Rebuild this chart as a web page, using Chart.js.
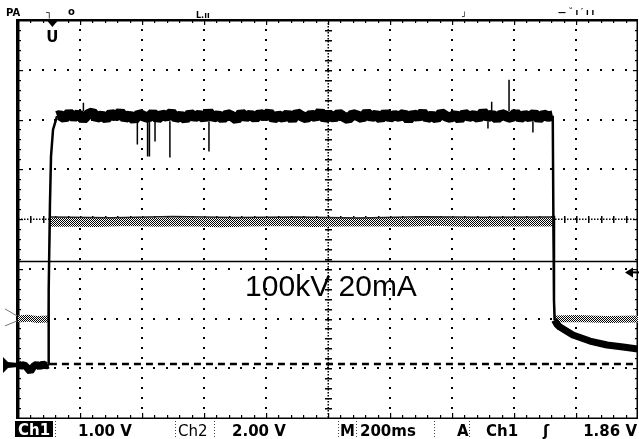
<!DOCTYPE html>
<html><head><meta charset="utf-8">
<script src="https://cdn.jsdelivr.net/npm/chart.js@4/dist/chart.umd.min.js"></script>
<style>html,body{margin:0;padding:0;background:#fff;}#wrap{width:639px;height:439px;}</style>
</head><body><div id="wrap"><canvas id="c" width="639" height="439"></canvas></div>
<script>
// Time base: 200 ms/div, 10 div. Ch1 1.00 V/div, Ch2 2.00 V/div.
const ch1LowT = [0,10,20,30,40,50,60,70,80,90,97];
const ch1LowV = [0.02,-0.02,0.0,-0.06,-0.13,-0.03,0.01,-0.04,0.02,-0.02,0.0];
const ch1RiseT = [97,99,103,106.5,113,126];
const ch1RiseV = [0.0,1.5,3.2,4.19,4.73,5.0];
const ch1FlatStartMs = 135, ch1FlatStepMs = 15;
const ch1FlatV = [
5.02,4.96,5.06,4.98,5.04,4.94,5.03,5.07,4.97,5.01,
4.95,5.05,4.99,5.08,4.96,5.02,4.93,5.04,5.00,4.97,
5.06,4.95,5.03,4.99,5.07,4.96,5.01,4.94,5.05,4.98,
5.03,4.96,5.08,4.97,5.02,4.95,5.04,5.00,4.93,5.06,
4.98,5.03,4.96,5.05,4.99,5.07,4.95,5.01,4.97,5.04,
4.94,5.06,5.00,4.96,5.03,4.98,5.08,4.95,5.02,4.97,
5.05,4.99,4.94,5.04,5.01,4.96,5.07,4.98,5.03,4.95,
5.06,4.97,5.02,4.99,5.05,4.93,5.04,4.98,5.07,4.96,
5.01,4.95,5.06,5.00,4.97,5.03,4.94,5.05,4.99,5.02,
4.96,5.08,4.98,5.03,4.95,5.04,5.00,4.97,5.06,4.96,
5.02,4.98,5.05,4.95,5.03,4.99,5.01];
const ch1FallT = [1725,1727,1729,1731];
const ch1FallV = [5.01,3.0,1.3,0.9];
const ch1TailT = [1731,1738,1748,1790,1845,1900,1952,2000];
const ch1TailV = [0.9,0.82,0.76,0.60,0.48,0.40,0.36,0.32];
const spikeT = [211,211,null,385,385,null,418,418,null,424,424,null,442,442,null,490,490,null,616,616,null,1516,1516,null,1528,1528,null,1584,1584,null,1661,1661];
const spikeV = [5.1,5.27,null,4.9,4.43,null,4.9,4.19,null,4.9,4.19,null,4.9,4.49,null,4.9,4.17,null,4.9,4.29,null,4.9,4.75,null,5.1,5.29,null,5.1,5.73,null,4.9,4.67];
const ch2LowT = [0,30,60,97];
const ch2LowV = [0,0.03,-0.02,0];
const ch2RiseT = [97,100,104];
const ch2RiseV = [0,2.0,3.89];
const ch2HighT = [104,150,250,350,450,550,650,750,850,950,1050,1150,1250,1350,1450,1550,1650,1726];
const ch2HighV = [3.89,3.9,3.88,3.92,3.89,3.91,3.87,3.9,3.92,3.88,3.9,3.91,3.89,3.93,3.88,3.9,3.91,3.9];
const ch2FallT = [1726,1729,1732];
const ch2FallV = [3.9,1.5,0];
const ch2EndT = [1732,1800,1900,2000];
const ch2EndV = [0,0.02,-0.02,0];
const ch2EdgeT = [106,300,500,700,900,1100,1300,1500,1725];
const ch2EdgeV = [4.1,4.07,4.12,4.08,4.1,4.06,4.11,4.09,4.1];
const cursorV = 2.08;      // ch1 volts, solid horizontal cursor
const refLevelV = 0.02;    // ch1 volts, dashed reference
const refStartMs = 103;
const trigLevelV = 1.86;   // ch1 volts
const trigPosMs = 111;
const ch1Range = [-1.067, 6.933];
const ch2Range = [-3.984, 12.016];
const timeRange = [0, 2000];
const divRange = [0, 8];

function pts(t, v){ return t.map((x,i)=> x===null ? {x: t[i-1], y: null} : {x: x, y: v[i]}); }
const ch1Flat = [{x: ch1RiseT[ch1RiseT.length-1], y: ch1RiseV[ch1RiseV.length-1]}]
  .concat(ch1FlatV.map((v,i)=>({x: ch1FlatStartMs + i*ch1FlatStepMs, y: v})));

function dither(){
  const c=document.createElement('canvas'); c.width=2; c.height=2;
  const g=c.getContext('2d'); g.fillStyle='#fff'; g.fillRect(0,0,2,2);
  g.fillStyle='#000'; g.fillRect(0,0,1,1); g.fillRect(1,1,1,1);
  return g.createPattern(c,'repeat');
}
const pat = dither();

const base = {showLine:true, pointRadius:0, tension:0, fill:false, spanGaps:false, borderJoinStyle:'bevel'};
function line(label, data, color, width, axis, extra){ return Object.assign({}, base, {label, data, borderColor:color, borderWidth:width, yAxisID:axis}, extra||{}); }
const ds = [
  line('ch1low', pts(ch1LowT,ch1LowV), '#000', 7.5, 'y1'),
  line('ch1rise', pts(ch1RiseT,ch1RiseV), '#000', 2.5, 'y1'),
  line('ch1flat', ch1Flat, '#000', 10.5, 'y1'),
  line('ch1fall', pts(ch1FallT,ch1FallV), '#000', 2.5, 'y1'),
  line('ch1tail', pts(ch1TailT,ch1TailV), '#000', 7, 'y1', {borderJoinStyle:'round'}),
  line('spikes', pts(spikeT,spikeV), '#000', 1.5, 'y1'),
  line('ch2edge', pts(ch2EdgeT,ch2EdgeV), '#222', 1.5, 'y2'),
  line('ch2low', pts(ch2LowT,ch2LowV), pat, 7, 'y2'),
  line('ch2rise', pts(ch2RiseT,ch2RiseV), '#555', 1, 'y2'),
  line('ch2high', pts(ch2HighT,ch2HighV), pat, 9, 'y2'),
  line('ch2fall', pts(ch2FallT,ch2FallV), '#555', 1, 'y2'),
  line('ch2end', pts(ch2EndT,ch2EndV), pat, 7, 'y2'),
  line('cursor', pts([0,2000],[cursorV,cursorV]), '#000', 1.5, 'y1'),
  line('ref', pts([refStartMs,2000],[refLevelV,refLevelV]), '#000', 2.5, 'y1', {borderDash:[7,5]})
];

const gridPlugin = {
  id:'scopeGrid',
  beforeDatasetsDraw(chart){
    const g = chart.ctx, xs = chart.scales.x, gs = chart.scales.g;
    const a = chart.chartArea;
    g.save(); g.fillStyle='#000';
    for(let i=1;i<10;i++){
      const x = Math.round(xs.getPixelForValue(i*200));
      for(let k=1;k<40;k++){
        const y = Math.round(gs.getPixelForValue(k*0.2));
        if(i===5){ g.fillRect(x-3,y,7,1.5); } else { g.fillRect(x-1,y-1,2,2); }
      }
      if(i===5){ for(let y=a.top; y<a.bottom; y+=3) g.fillRect(x-0.5,y,1.5,1.5); }
    }
    for(let j=1;j<8;j++){
      const y = Math.round(gs.getPixelForValue(j));
      for(let k=1;k<50;k++){
        const x = Math.round(xs.getPixelForValue(k*40));
        if(j===4){ g.fillRect(x,y-3,1.5,7); } else { g.fillRect(x-1,y-1,2,2); }
      }
      if(j===4){ for(let x=a.left; x<a.right; x+=3) g.fillRect(x,y-0.5,1.5,1.5); }
    }
    // borders
    g.fillRect(a.left-2, a.top, 3.5, a.bottom-a.top+1);
    g.fillRect(a.left-2, a.top-1, a.right-a.left+2, 2.5);
    g.fillRect(a.right-1.5, a.top, 1.5, a.bottom-a.top);
    g.fillRect(a.left-2, a.bottom-0.5, a.right-a.left+2, 1.5);
    for(let k=1;k<50;k++){
      const x = Math.round(xs.getPixelForValue(k*40));
      const L = (k%5===0)?5:3;
      g.fillRect(x, a.top, 1.2, L); g.fillRect(x, a.bottom-L, 1.2, L);
    }
    for(let k=1;k<40;k++){
      const y = Math.round(gs.getPixelForValue(k*0.2));
      const L = (k%5===0)?5:3;
      g.fillRect(a.left, y, L, 1.2); g.fillRect(a.right-L, y, L, 1.2);
    }
    g.restore();
  },
  afterDraw(chart){
    const g = chart.ctx, xs = chart.scales.x, y1 = chart.scales.y1, y2 = chart.scales.y2, gs = chart.scales.g;
    const a = chart.chartArea;
    g.save();
    g.fillStyle='#000';
    // ch1 ground marker
    const gy = y1.getPixelForValue(0);
    g.beginPath(); g.moveTo(3,gy-8); g.lineTo(8,gy-3); g.lineTo(a.left,gy-2); g.lineTo(a.left,gy+2); g.lineTo(8,gy+3); g.lineTo(3,gy+8); g.closePath(); g.fill();
    // ch2 ground marker (faint)
    const g2 = y2.getPixelForValue(0);
    g.strokeStyle='#777'; g.lineWidth=1;
    g.beginPath(); g.moveTo(5,g2-10); g.lineTo(a.left-1,g2-3); g.moveTo(5,g2+7); g.lineTo(a.left-1,g2+2); g.stroke();
    // trigger level marker (right)
    const ty = y1.getPixelForValue(trigLevelV);
    g.beginPath(); g.moveTo(a.right-13,ty); g.lineTo(a.right-5,ty-5); g.lineTo(a.right-5,ty+5); g.closePath(); g.fill();
    g.fillRect(a.right-6, ty-1, 8, 2);
    // trigger position marker (top)
    const tx = xs.getPixelForValue(trigPosMs);
    g.beginPath(); g.moveTo(tx-5,a.top+1); g.lineTo(tx+5,a.top+1); g.lineTo(tx,a.top+7); g.closePath(); g.fill();
    g.font='bold 15px "DejaVu Sans"'; g.textAlign='center'; g.textBaseline='alphabetic';
    g.fillText('U', tx, a.top+22);
    // annotation
    g.font='30px "Liberation Sans"'; g.textAlign='center';
    g.fillText('100kV 20mA', xs.getPixelForValue(1000)+3, gs.getPixelForValue(2.45));
    // top scribbles
    g.font='bold 10px "DejaVu Sans"'; g.textAlign='left';
    g.fillText('PA', 6, 16); g.fillText('\u2510', 46, 16); g.fillText('o', 68, 15);
    g.font='bold 8px "DejaVu Sans"';
    g.fillText('L.ıı', 196, 18); g.fillText('\u2518', 462, 19);
    g.fillText('\u2014 \u02D8 ı \u2032 ı ı', 558, 15);
    // status bar
    const sy = 436;
    g.fillRect(15, 421, 38, 16);
    g.font='bold 15px "DejaVu Sans"'; g.textAlign='left';
    g.fillStyle='#fff'; g.fillText('Ch1', 18, sy-1);
    g.fillStyle='#000';
    g.fillText('1.00 V', 78, sy);
    g.font='15px "DejaVu Sans"';
    g.fillText('Ch2', 178, sy);
    g.font='bold 15px "DejaVu Sans"';
    g.fillText('2.00 V', 232, sy);
    g.fillText('M', 340, sy);
    g.fillText('200ms', 360, sy);
    g.fillText('A', 457, sy);
    g.fillText('Ch1', 486, sy);
    g.fillText('\u0283', 543, sy);
    g.textAlign='right';
    g.fillText('1.86 V', 637, sy);
    g.strokeStyle='#444'; g.lineWidth=1; g.setLineDash([1,2]);
    [55,175,214,338,356,434,469].forEach(x=>{ g.beginPath(); g.moveTo(x+0.5,421); g.lineTo(x+0.5,438); g.stroke(); });
    g.restore();
  }
};

new Chart(document.getElementById('c'), {
  type:'scatter',
  data:{datasets: ds},
  options:{
    responsive:false, animation:false, devicePixelRatio:1,
    layout:{padding:{left:18, right:1, top:20, bottom:21}},
    plugins:{legend:{display:false}, tooltip:{enabled:false}},
    scales:{
      x:{type:'linear', min:timeRange[0], max:timeRange[1], display:false},
      y1:{type:'linear', min:ch1Range[0], max:ch1Range[1], display:false},
      y2:{type:'linear', min:ch2Range[0], max:ch2Range[1], display:false},
      g:{type:'linear', axis:'y', min:divRange[0], max:divRange[1], display:false}
    }
  },
  plugins:[gridPlugin]
});
</script></body></html>
